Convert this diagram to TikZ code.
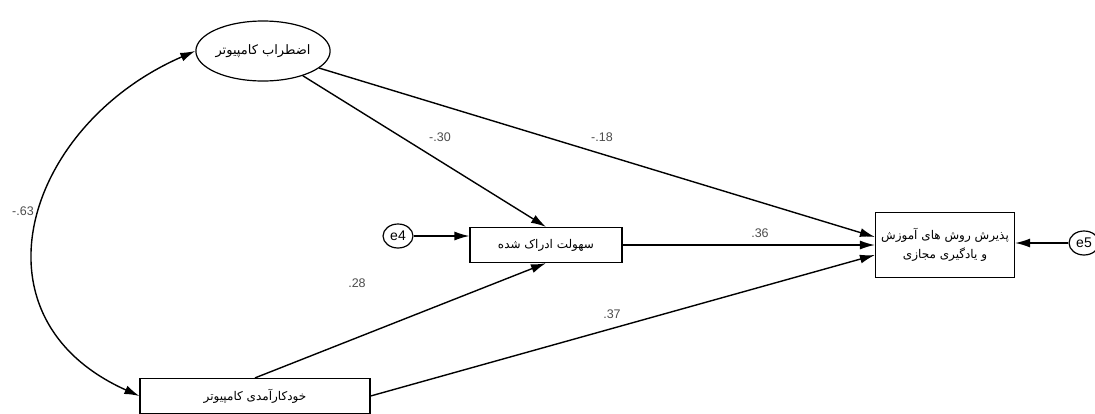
\documentclass[tikz,border=0pt]{standalone}
\usepackage{fontspec}
\setmainfont{Liberation Sans}
\newfontfamily\arabicfont[Script=Arabic]{DejaVu Sans}
\TeXXeTstate=1
\usetikzlibrary{shapes.geometric,arrows.meta}
\tikzset{
  obs/.style={draw,line width=1.2pt,rectangle,font=\arabicfont\fontsize{12}{19}\selectfont,align=center,inner sep=0pt},
  lat/.style={draw,line width=1.2pt,ellipse,font=\arabicfont\fontsize{13}{15}\selectfont,inner sep=0pt},
  err/.style={draw,line width=1.2pt,ellipse,font=\fontsize{14}{16}\selectfont,inner sep=0pt,minimum width=30pt,minimum height=24pt},
  path/.style={line width=1.4pt,-{Latex[length=15pt,width=9pt]}},
  coef/.style={text=black!70,font=\fontsize{12.5}{14}\selectfont,inner sep=0pt}
}
\begin{document}
\begin{tikzpicture}[x=1pt,y=-1pt]
        \useasboundingbox (0,0) rectangle (1095,413);
        % variables
        \node[lat,minimum width=118,minimum height=60] (anx) at (263,51) {\beginR اضطراب کامپیوتر\endR};
        \node[obs,minimum width=152,minimum height=35] (ease) at (546,245) {\beginR سهولت ادراک شده\endR};
        \node[obs,minimum width=139,minimum height=65] (accept) at (945,245) {\beginR پذیرش روش های آموزش\endR\\\beginR و یادگیری مجازی\endR};
        \node[obs,minimum width=230,minimum height=35] (eff) at (255,396) {\beginR خودکارآمدی کامپیوتر\endR};
        \node[err] (e4) at (398,236) {e4};
        \node[err] (e5) at (1084,243) {e5};
        % paths
        \draw[path] (anx) -- (ease.north);
        \draw[path] (anx) -- ([yshift=8pt]accept.west);
        \draw[path] (ease) -- (accept);
        \draw[path] (eff.north) -- (ease.south);
        \draw[path] (eff.east) -- ([yshift=-10pt]accept.west);
        \draw[path] (e4) -- (e4 -| ease.west);
        \draw[path] (e5) -- (e5 -| accept.east);
        \draw[line width=1.4pt,{Latex[length=15pt,width=9pt]}-{Latex[length=15pt,width=9pt]}]
              (anx.west) .. controls (25,125) and (-35,318) .. (eff.west);
        % coefficients
        \node[coef] (c30) at (440,137) {-.30};
        \node[coef] (c18) at (602,137) {-.18};
        \node[coef] (c36) at (760,233) {.36};
        \node[coef] (c28) at (357,283) {.28};
        \node[coef] (c37) at (612,314) {.37};
        \node[coef] (c63) at (23,211) {-.63};
\end{tikzpicture}
\end{document}
